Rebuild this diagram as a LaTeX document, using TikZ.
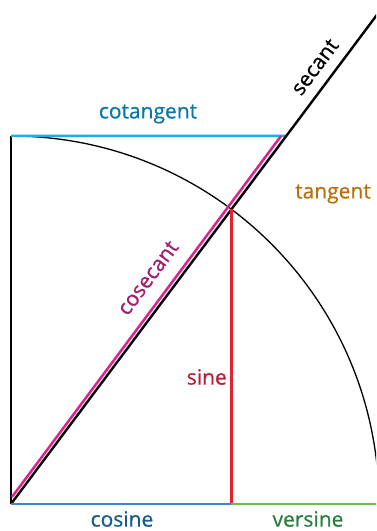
\documentclass[tikz,border=0pt]{standalone}
\usepackage{fontspec}
\setmainfont{Open Sans}
\newfontfamily\labelfont{Open Sans}[FakeBold=0.7]
\usetikzlibrary{calc}

\definecolor{cotline}{HTML}{1AAEE6}
\definecolor{cottext}{HTML}{0C76A6}
\definecolor{cscline}{HTML}{E0208C}
\definecolor{csctext}{HTML}{A41C70}
\definecolor{sinline}{HTML}{E82030}
\definecolor{sintext}{HTML}{B41E30}
\definecolor{cosline}{HTML}{3A88CE}
\definecolor{costext}{HTML}{1A5A8E}
\definecolor{versline}{HTML}{6CBE44}
\definecolor{verstext}{HTML}{2A7E40}
\definecolor{tantext}{HTML}{B8700C}

\tikzset{
    trigline/.style={line width=2.5pt},
    triglabel/.style={font=\labelfont\fontsize{21}{24}\selectfont, inner sep=0pt}
}

\begin{document}
\begin{tikzpicture}[x=1pt,y=1pt]

            \useasboundingbox (0,0) rectangle (376,531);
            \clip (0,0) rectangle (376,531);

            \coordinate (O) at (11,27);
            \coordinate (P) at ($(O)+(53.2:368)$);
            \coordinate (F) at (P |- O);
            \coordinate (T) at (11,395);
            \coordinate (C) at ($(O)+(53.2:{368/sin(53.2)})$);
            \coordinate (S) at ($(O)+(53.2:640)$);
            \coordinate (V) at (379,27);
            \coordinate (Q) at (12,34);
            \coordinate (R) at (281,395);

            % unit circle and the axis
            \draw[line width=1.3pt] (T) arc (90:0:368);
            \draw[line width=1.6pt] (O) -- (T);

            \draw[trigline, cotline] (T) -- (C);
            \draw[trigline, cscline] (Q) -- (R);
            \draw[trigline, black, line width=2.4pt] (O) -- (S);
            \draw[trigline, sinline] (P) -- (F);
            \draw[trigline, cosline] (O) -- (F);
            \draw[trigline, versline] (F) -- (V);

            \node[triglabel, cottext] (cotlab) at (148,417) {cotangent};
            \node[triglabel, rotate=53.2] (seclab) at (315,464) {secant};
            \node[triglabel, tantext, anchor=west] (tanlab) at (295,337) {tangent};
            \node[triglabel, csctext, rotate=53.2] (csclab) at (148,253) {cosecant};
            \node[triglabel, sintext, anchor=east] (sinlab) at (227,154) {sine};
            \node[triglabel, costext] (coslab) at (122,12) {cosine};
            \node[triglabel, verstext] (verslab) at (308,12) {versine};
        \end{tikzpicture}
\end{document}
